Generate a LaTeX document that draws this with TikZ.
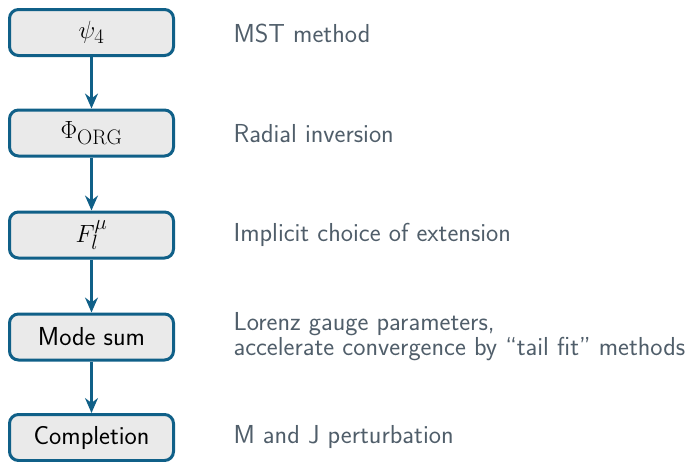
\documentclass[tikz,border=0pt]{standalone}
\usepackage{fontspec}
\usetikzlibrary{arrows.meta}
\definecolor{boxline}{RGB}{16,96,136}
\definecolor{boxfill}{RGB}{234,234,234}
\definecolor{notetext}{RGB}{80,94,106}
\begin{document}
\begin{tikzpicture}[x=1pt,y=-1pt,
  stage/.style={draw=boxline, fill=boxfill, line width=3pt, rounded corners=9pt,
    minimum width=164pt, minimum height=46pt, inner sep=0pt,
    font=\sffamily\fontsize{26}{30}\selectfont, text=black},
  mathstage/.style={stage, font=\fontsize{30}{32}\selectfont},
  note/.style={anchor=west, align=left, text=notetext,
    font=\sffamily\fontsize{26}{25}\selectfont},
  flow/.style={draw=boxline, line width=2.2pt,
    -{Stealth[length=15pt,width=13pt,inset=5pt]}}]
\useasboundingbox (0,0) rectangle (690,461);
\node[mathstage] (s1) at (91.5,32.5)  {$\psi_4$};
\node[mathstage] (s2) at (91.5,133) {$\Phi_{\mathrm{ORG}}$};
\node[mathstage] (s3) at (91.5,235) {$F_l^{\mu}$};
\node[stage] (s4) at (91.5,337) {Mode sum};
\node[stage] (s5) at (91.5,437.5) {Completion};
\draw[flow] (s1) -- (s2);
\draw[flow] (s2) -- (s3);
\draw[flow] (s3) -- (s4);
\draw[flow] (s4) -- (s5);
\node[note] (n1) at (230,33)  {MST method};
\node[note] (n2) at (230,134) {Radial inversion};
\node[note] (n3) at (230,235) {Implicit choice of extension};
\node[note] (n4) at (230,337) {Lorenz gauge parameters,\\accelerate convergence by ``tail fit'' methods};
\node[note] (n5) at (230,437) {M and J perturbation};
\end{tikzpicture}
\end{document}
